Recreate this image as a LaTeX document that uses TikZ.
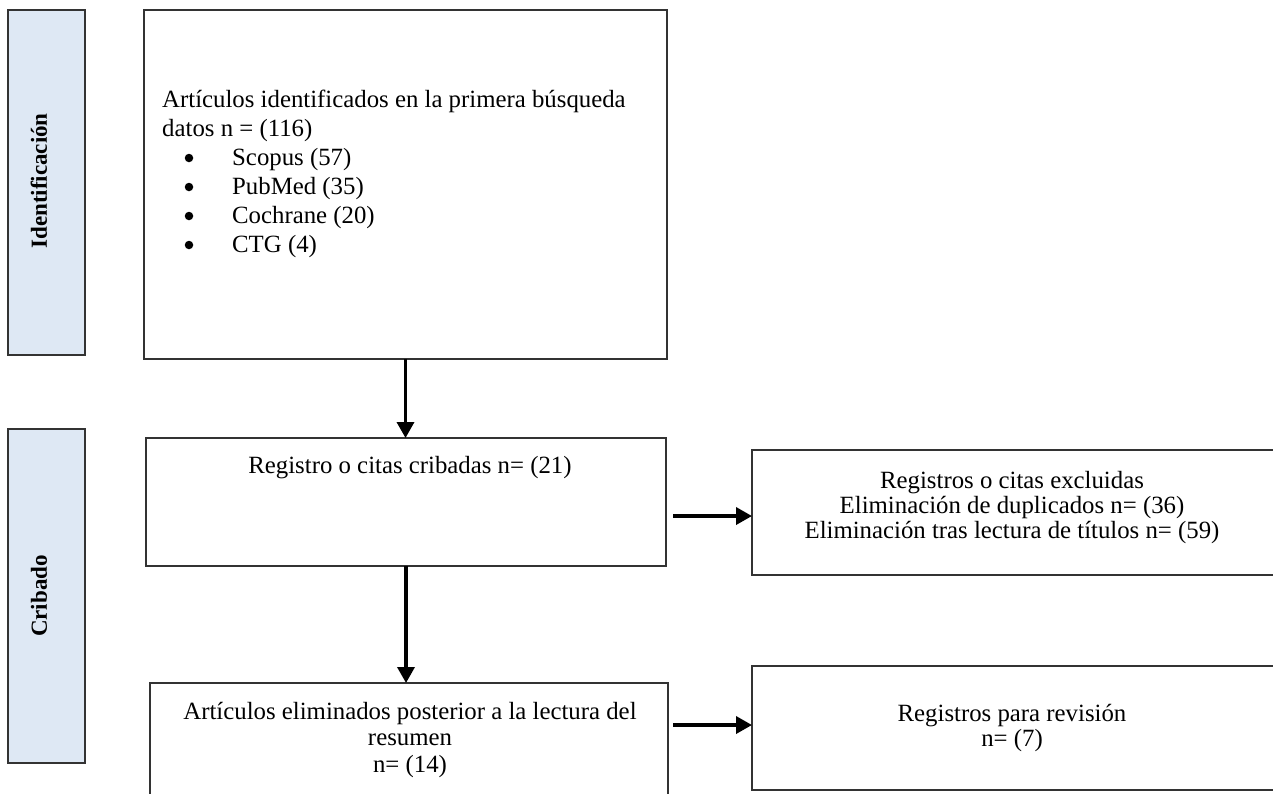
\documentclass[tikz,border=0pt]{standalone}
\usepackage{fontspec}
\setmainfont{Liberation Serif}
\usetikzlibrary{arrows.meta}
\definecolor{sidefill}{HTML}{DEE8F4}
\definecolor{edge}{HTML}{333333}
\begin{document}
\begin{tikzpicture}[x=1pt,y=-1pt,
  box/.style={draw=edge, line width=1.3pt, inner sep=0pt, outer sep=0pt, anchor=north west},
  sidebox/.style={box, fill=sidefill},
  txt/.style={font=\fontsize{24.8}{29}\selectfont, inner sep=0pt, anchor=base},
  ltxt/.style={txt, anchor=base west},
  dot/.style={circle, fill=black, inner sep=0pt, minimum size=8.5pt},
  sidetxt/.style={font=\fontsize{23}{26}\selectfont\bfseries, rotate=90, inner sep=0pt},
  arr/.style={line width=3.5pt, -{Triangle[length=16pt,width=17pt]}}]
\useasboundingbox (0,0) rectangle (1273,793);
\clip (0,0) rectangle (1273,793);
% side boxes
\node[sidebox, minimum width=77, minimum height=345] (sid) at (8,10) {};
\node[sidebox, minimum width=77, minimum height=334] (scr) at (8,429) {};
\node[sidetxt] (lid) at (39,181) {Identificación};
\node[sidetxt] (lcr) at (39,596) {Cribado};
% main boxes
\node[box, minimum width=523, minimum height=349] (b1) at (144,10) {};
\node[box, minimum width=520, minimum height=128] (b2) at (146,438) {};
\node[box, minimum width=518, minimum height=160] (b3) at (150,683) {};
\node[box, minimum width=560, minimum height=125] (r1) at (752,450) {};
\node[box, minimum width=560, minimum height=124] (r2) at (752,666) {};
% box 1 text
\node[ltxt] (t1a) at (162,107) {Artículos identificados en la primera búsqueda};
\node[ltxt] (t1b) at (162,136) {datos n = (116)};
\node[dot] (u1) at (189,158) {};
\node[dot] (u2) at (189,187) {};
\node[dot] (u3) at (189,216) {};
\node[dot] (u4) at (189,245) {};
\node[ltxt] (s1) at (232,165) {Scopus (57)};
\node[ltxt] (s2) at (232,194) {PubMed (35)};
\node[ltxt] (s3) at (232,223) {Cochrane (20)};
\node[ltxt] (s4) at (232,252) {CTG (4)};
% box 2 text
\node[txt] (t2) at (410,473) {Registro o citas cribadas n= (21)};
% right box 1 text
\node[txt] (r1a) at (1012,488) {Registros o citas excluidas};
\node[txt] (r1b) at (1012,513) {Eliminación de duplicados n= (36)};
\node[txt] (r1c) at (1012,538) {Eliminación tras lectura de títulos n= (59)};
% box 3 text
\node[txt] (t3a) at (410,719) {Artículos eliminados posterior a la lectura del};
\node[txt] (t3b) at (410,745) {resumen};
\node[txt] (t3c) at (410,772) {n= (14)};
% right box 2 text
\node[txt] (r2a) at (1012,721) {Registros para revisión};
\node[txt] (r2b) at (1012,746) {n= (7)};
% arrows
\draw[arr] (b1.south) -- (b1.south |- b2.north);
\draw[arr] (b2.south) -- (b2.south |- b3.north);
\coordinate (h1) at (673,516);
\coordinate (h2) at (673,725);
\draw[arr] (h1) -- (h1 -| r1.west);
\draw[arr] (h2) -- (h2 -| r2.west);
\end{tikzpicture}
\end{document}
